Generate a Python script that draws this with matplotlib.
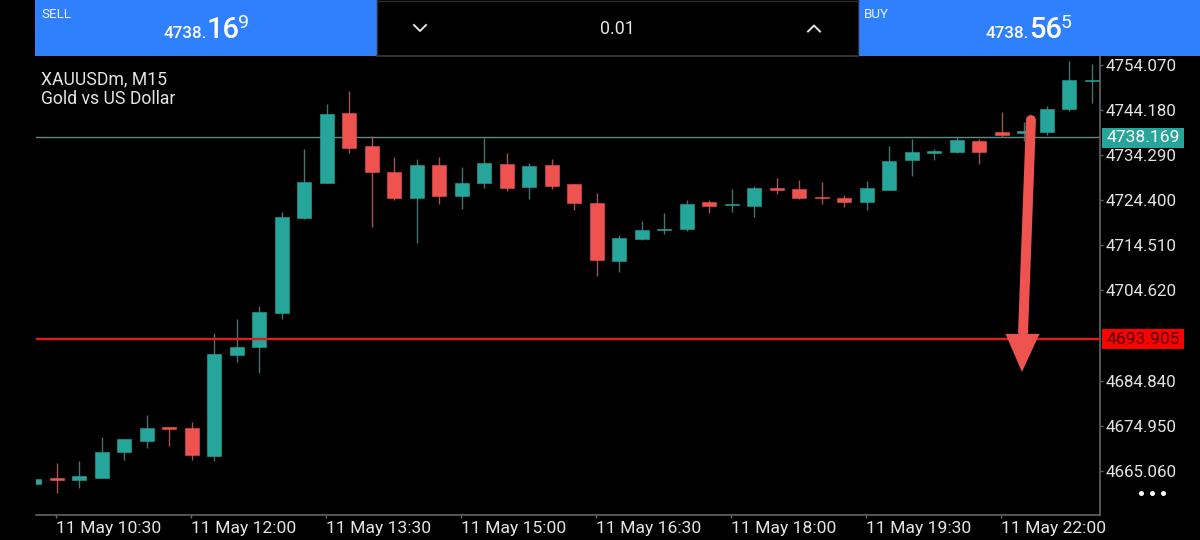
import matplotlib
matplotlib.use("Agg")
import numpy as np
import matplotlib.pyplot as plt
from matplotlib.patches import Rectangle, Polygon

plt.rcParams['font.family'] = ['Roboto', 'DejaVu Sans']

opens = [4662.25, 4663.56, 4663.06, 4663.56, 4669.26, 4671.61, 4674.68, 4674.53,
         4668.32, 4690.40, 4692.22, 4699.61, 4720.58, 4728.19, 4743.47, 4736.24,
         4730.53, 4724.90, 4732.14, 4725.40, 4728.19, 4732.42, 4727.25, 4732.14,
         4727.90, 4723.87, 4711.08, 4715.97, 4717.88, 4718.03, 4723.96, 4723.30,
         4723.08, 4727.16, 4726.81, 4725.12, 4724.83, 4723.96, 4726.59, 4733.17,
         4734.83, 4734.99, 4737.33, 4739.37, 4739.22, 4739.31, 4744.35, 4750.62]
closes = [4663.21, 4663.06, 4664.00, 4669.26, 4671.98, 4674.39, 4674.31, 4668.47,
          4690.69, 4692.22, 4699.90, 4720.80, 4728.34, 4743.32, 4735.93, 4730.53,
          4724.90, 4732.14, 4725.40, 4728.19, 4732.64, 4727.03, 4731.85, 4727.53,
          4723.80, 4711.30, 4716.19, 4717.95, 4718.17, 4723.58, 4723.21, 4723.52,
          4727.16, 4726.76, 4724.83, 4724.83, 4724.02, 4727.03, 4733.08, 4735.05,
          4735.14, 4737.55, 4734.99, 4738.71, 4739.53, 4744.42, 4750.78, 4750.84]
highs = [4663.21, 4666.72, 4667.29, 4672.42, 4671.98, 4677.38, 4674.68, 4675.84,
         4695.23, 4698.30, 4701.21, 4721.89, 4735.58, 4745.51, 4748.43, 4738.43,
         4733.82, 4733.39, 4733.96, 4731.63, 4738.12, 4734.70, 4732.51, 4733.45,
         4727.90, 4726.06, 4716.78, 4719.79, 4721.61, 4724.46, 4724.46, 4726.81,
         4727.53, 4729.39, 4728.85, 4728.34, 4725.49, 4728.56, 4736.24, 4737.77,
         4735.58, 4738.34, 4737.77, 4743.76, 4741.63, 4745.07, 4755.01, 4754.28]
lows = [4662.25, 4660.27, 4661.24, 4663.56, 4667.44, 4670.14, 4670.51, 4667.44,
        4667.22, 4689.00, 4686.46, 4698.43, 4720.29, 4728.12, 4734.83, 4718.47,
        4724.46, 4715.10, 4723.58, 4722.55, 4727.16, 4726.37, 4724.68, 4726.87,
        4722.27, 4707.79, 4708.67, 4715.75, 4717.00, 4717.66, 4721.61, 4721.76,
        4720.67, 4725.73, 4724.75, 4723.65, 4722.99, 4722.33, 4726.59, 4729.72,
        4733.23, 4734.70, 4732.35, 4738.21, 4737.46, 4738.71, 4743.91, 4745.80]

# 4694.730 sits behind the red level box in the original, so it is left out
price_ticks = [4754.070, 4744.180, 4734.290, 4724.400, 4714.510, 4704.620,
               4684.840, 4674.950, 4665.060]
time_ticks = [1, 7, 13, 19, 25, 31, 37, 43]
time_labels = ['11 May 10:30', '11 May 12:00', '11 May 13:30', '11 May 15:00',
               '11 May 16:30', '11 May 18:00', '11 May 19:30', '11 May 22:00']
bid = 4738.169
level = 4693.905

TEAL = '#26a69a'
RED = '#ef5350'
BLUE = '#2f80ff'
AXIS = '#5f6368'
TXT = '#e4e4e4'

fig = plt.figure(figsize=(12, 5.4), dpi=100, facecolor='black')
# chart area in pixels: x 36-1099.5, y 56-514.5
ax = fig.add_axes([36/1200, 1-514.5/540, (1099.5-36)/1200, (514.5-56)/540], facecolor='black')

o = np.array(opens)
c = np.array(closes)
x = np.arange(len(o))
up = c >= o

ax.axhline(bid, color='#5d8a85', lw=1, zorder=1)
ax.vlines(x[up], np.array(lows)[up], np.array(highs)[up], color='#45736f', lw=1, zorder=2)
ax.vlines(x[~up], np.array(lows)[~up], np.array(highs)[~up], color='#a35454', lw=1, zorder=2)
ax.bar(x, np.abs(c-o), bottom=np.minimum(o, c), width=0.62, color=np.where(up, TEAL, RED),
       edgecolor=np.where(up, TEAL, RED), lw=0.4, zorder=3)
ax.axhline(level, color='#e01b1b', lw=1.7, zorder=4)

ax.set_xlim((36-34.2)/22.5, (1099.5-34.2)/22.5)
ax.set_ylim(4768.32-0.2193*514.5, 4768.32-0.2193*56)

ax.yaxis.tick_right()
ax.set_yticks(price_ticks)
ax.set_yticklabels(['%.3f' % p for p in price_ticks])
ax.set_xticks(np.array(time_ticks)-0.05)
ax.set_xticklabels(time_labels, ha='left')
ax.tick_params(axis='y', colors=TXT, labelsize=12.2, length=2, width=1, color=AXIS, pad=2.5)
ax.tick_params(axis='x', colors=TXT, labelsize=12.6, length=2, width=1, color=AXIS, pad=3)
for s in ['top', 'left']:
    ax.spines[s].set_visible(False)
for s in ['bottom', 'right']:
    ax.spines[s].set_color(AXIS)
    ax.spines[s].set_linewidth(1.2)

# drawn arrow on the chart
ax.plot([44.30, 43.95], [4742.0, 4695.5], color=RED, lw=7.2, solid_capstyle='round', zorder=6)
ax.add_patch(Polygon([(43.17, 4695.1), (44.68, 4695.1), (43.90, 4686.74)], closed=True,
                     facecolor=RED, edgecolor='none', zorder=6))

# overlay in pixel coordinates for header and price boxes
ov = fig.add_axes([0, 0, 1, 1], facecolor='none')
ov.set_xlim(0, 1200)
ov.set_ylim(540, 0)
ov.axis('off')

ov.add_patch(Rectangle((35, 0), 342, 56, facecolor=BLUE, edgecolor='none'))
ov.add_patch(Rectangle((858, 0), 342, 56, facecolor=BLUE, edgecolor='none'))
ov.plot([377, 858], [56, 56], color='#3a3d42', lw=1.2)
ov.plot([377, 858], [0.5, 0.5], color='#2a2c30', lw=1)
ov.plot([377, 377], [0, 56], color='#2a2c30', lw=1)
ov.plot([858, 858], [0, 56], color='#2a2c30', lw=1)

ov.text(41, 14, 'SELL', color='#f0f5ff', fontsize=9.6, va='center')
ov.text(864, 14, 'BUY', color='#f0f5ff', fontsize=9.6, va='center')
ov.text(163, 37.5, '4738.', color='white', fontsize=12.2, fontweight='medium', va='baseline')
ov.text(207, 37.5, '16', color='white', fontsize=21, fontweight='medium', va='baseline')
ov.text(238, 28, '9', color='white', fontsize=14, va='baseline')
ov.text(986, 37.5, '4738.', color='white', fontsize=12.2, fontweight='medium', va='baseline')
ov.text(1029, 37.5, '56', color='white', fontsize=21, fontweight='medium', va='baseline')
ov.text(1061, 28, '5', color='white', fontsize=14, va='baseline')
ov.text(617, 29, '0.01', color=TXT, fontsize=12.8, ha='center', va='center')
ov.plot([414, 420, 426], [25, 31, 25], color=TXT, lw=1.4)
ov.plot([808, 814, 820], [31.5, 25.5, 31.5], color=TXT, lw=1.4)

ov.text(41, 79, 'XAUUSDm, M15', color=TXT, fontsize=12.7, va='center')
ov.text(41, 99, 'Gold vs US Dollar', color=TXT, fontsize=12.7, va='center')

ov.add_patch(Rectangle((1102, 128), 82, 20, facecolor=TEAL, edgecolor='none'))
ov.text(1106.5, 138, '%.3f' % bid, color='white', fontsize=12.6, va='center')
ov.add_patch(Rectangle((1102, 329), 82, 20, facecolor='#ff0000', edgecolor='none'))
ov.text(1106.5, 339, '%.3f' % level, color='#4a0505', fontsize=12.6, va='center')

ov.plot([1141, 1152, 1163], [493, 493, 493], 'o', color='white', ms=3.6, mew=0)

fig.savefig('out.png', dpi=100, facecolor='black')
